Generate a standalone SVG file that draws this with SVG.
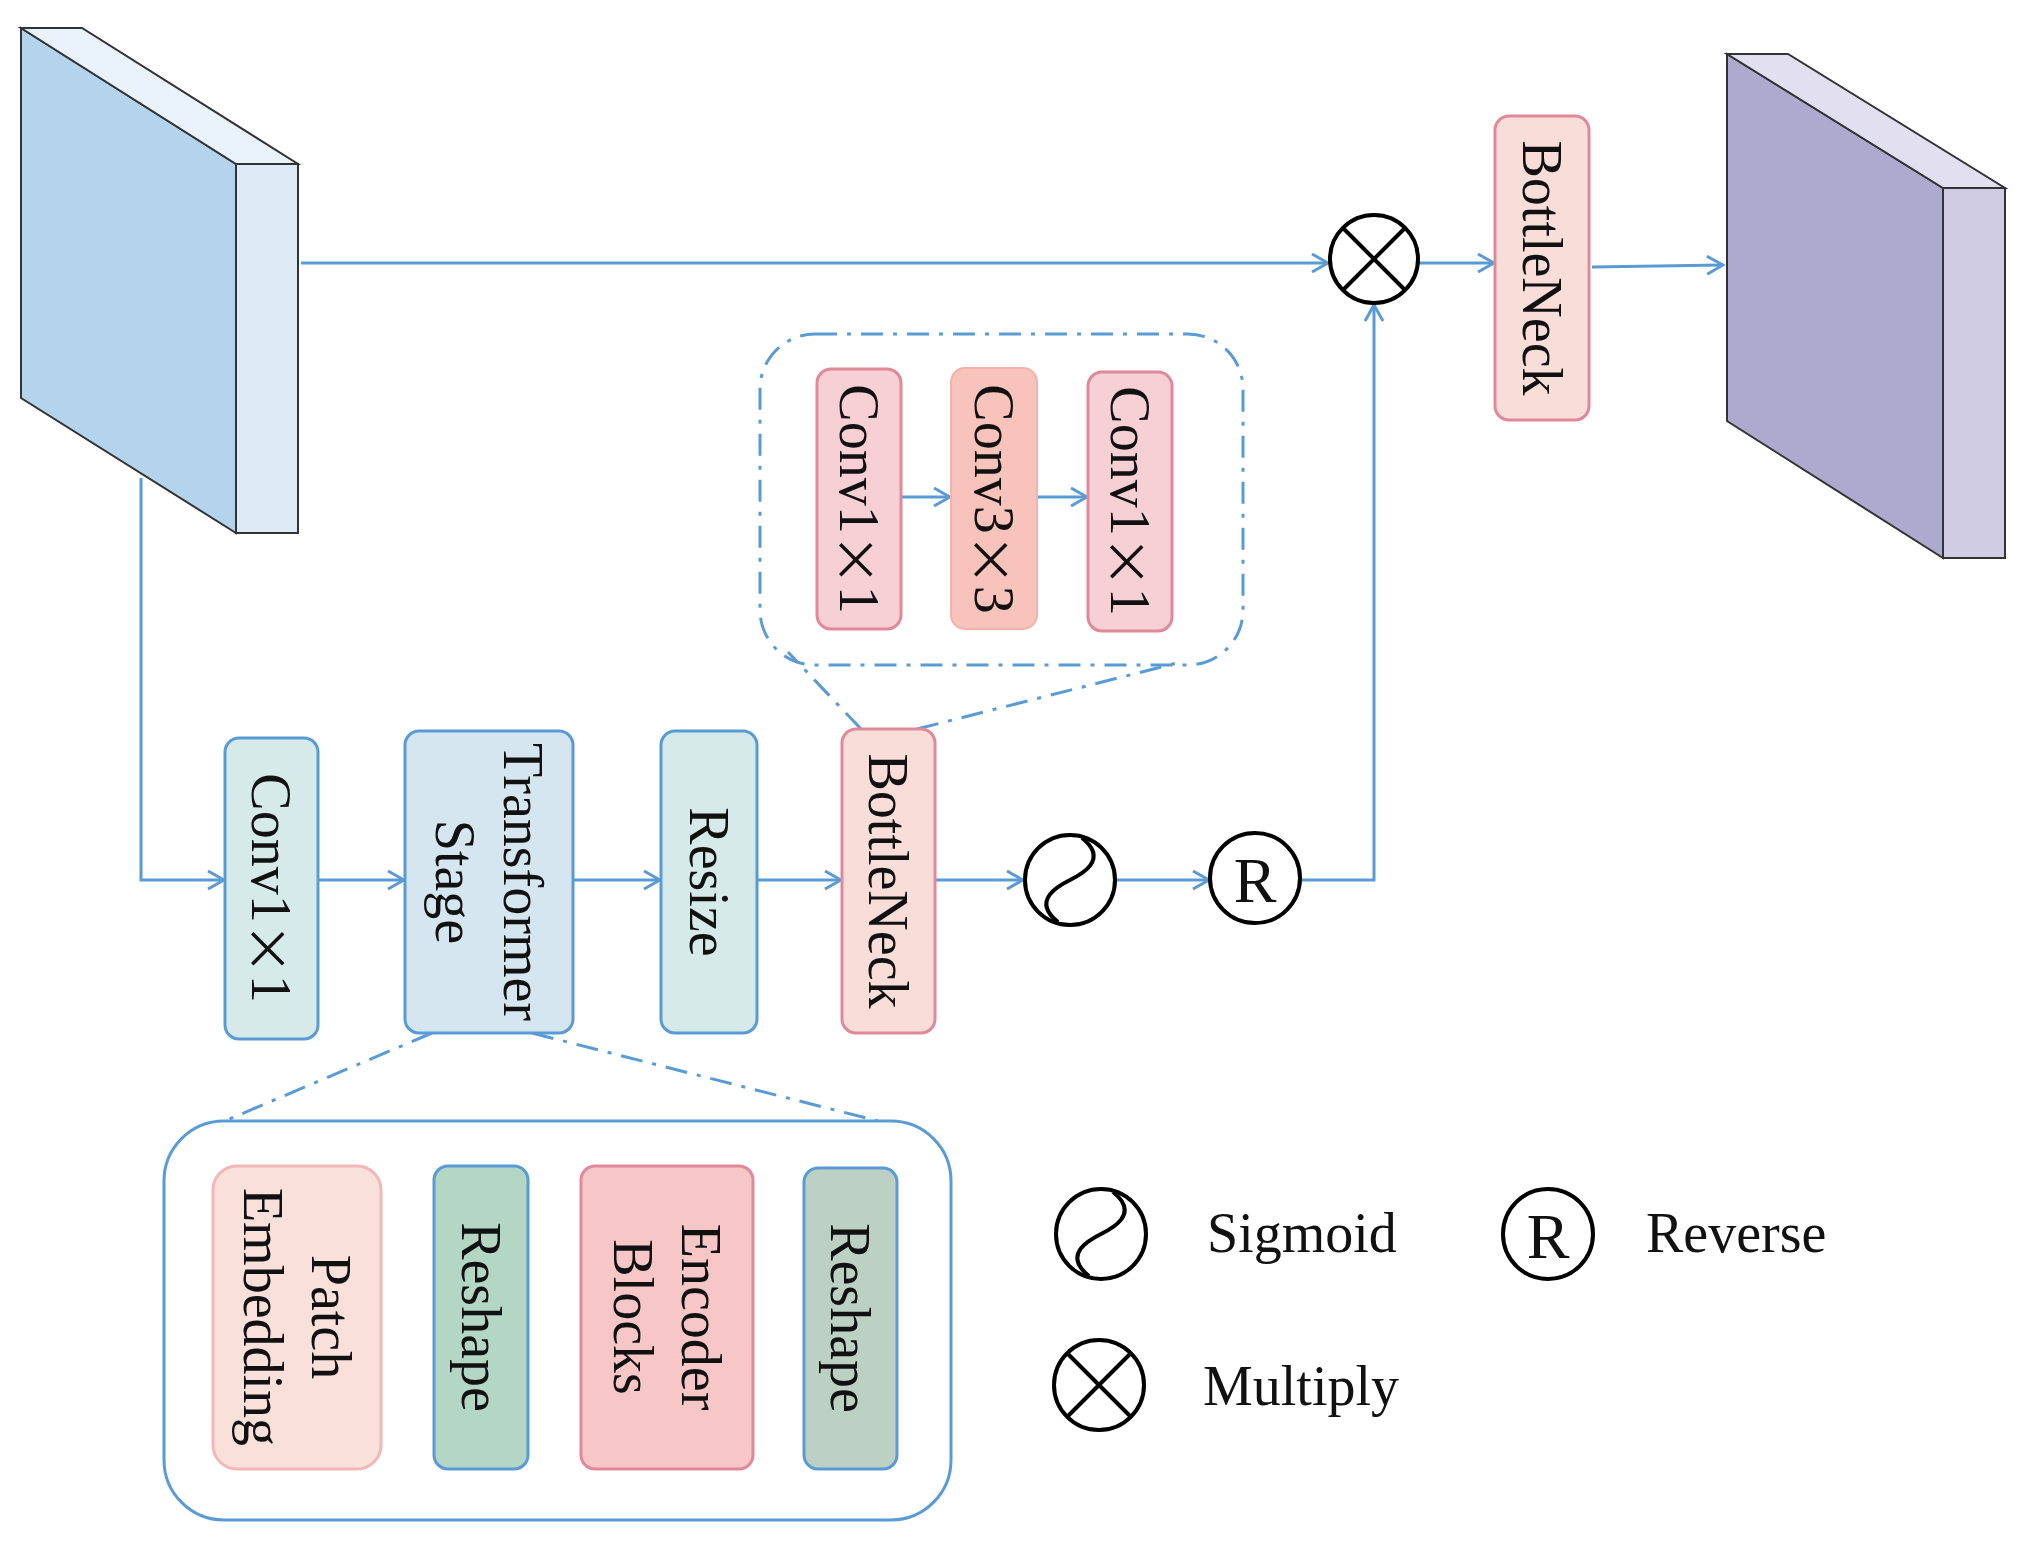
<svg xmlns="http://www.w3.org/2000/svg" width="2024" height="1542" viewBox="0 0 2024 1542">
<style>
.t{font-family:"Liberation Serif","Times New Roman",serif;font-size:56px;fill:#111;}
.x{font-family:"Noto Sans CJK SC",sans-serif;font-size:52px;}
.r{font-size:64px;}
.c{fill:none;stroke:#5b9bd5;stroke-width:3;}
.d{fill:none;stroke:#5b9bd5;stroke-width:3;stroke-dasharray:22 10 4 10;}
.sym{fill:#fff;stroke:#000;stroke-width:4;}
.bl{stroke:#5b9bd5;stroke-width:3;rx:14;}
.rd{stroke:#e0899a;stroke-width:3;rx:14;}
</style>
<defs>
<marker id="a" markerWidth="20" markerHeight="20" refX="18" refY="10" orient="auto" markerUnits="userSpaceOnUse">
<path d="M2,1 L18,10 L2,19" fill="none" stroke="#5b9bd5" stroke-width="3"/>
</marker>
</defs>
<g id="input-block">
<polygon points="21,28 236,164 236,533 21,398" fill="#b4d3ec" stroke="#333" stroke-width="2"/>
<polygon points="21,28 82,28 298,164 236,164" fill="#eaf3fb" stroke="#333" stroke-width="2"/>
<rect x="236" y="164" width="62" height="369" fill="#dde9f5" stroke="#333" stroke-width="2"/>
</g>
<g id="output-block">
<polygon points="1727,54 1943,188 1943,558 1727,421" fill="#aea9cf" stroke="#333" stroke-width="2"/>
<polygon points="1727,54 1788,54 2005,188 1943,188" fill="#e2e0f0" stroke="#333" stroke-width="2"/>
<rect x="1943" y="188" width="62" height="370" fill="#d0cce4" stroke="#333" stroke-width="2"/>
</g>
<g id="connectors">
<line class="c" x1="301" y1="263" x2="1328" y2="263" marker-end="url(#a)"/>
<line class="c" x1="1418" y1="263" x2="1494" y2="263" marker-end="url(#a)"/>
<line class="c" x1="1592" y1="267" x2="1723" y2="265" marker-end="url(#a)"/>
<polyline class="c" points="141,478 141,880 224,880" marker-end="url(#a)"/>
<line class="c" x1="318" y1="880" x2="404" y2="880" marker-end="url(#a)"/>
<line class="c" x1="573" y1="880" x2="660" y2="880" marker-end="url(#a)"/>
<line class="c" x1="757" y1="880" x2="841" y2="880" marker-end="url(#a)"/>
<line class="c" x1="935" y1="880" x2="1023" y2="880" marker-end="url(#a)"/>
<line class="c" x1="1115" y1="880" x2="1209" y2="880" marker-end="url(#a)"/>
<polyline class="c" points="1300,880 1374,880 1374,305" marker-end="url(#a)"/>
<line class="c" x1="901" y1="497" x2="950" y2="497" marker-end="url(#a)"/>
<line class="c" x1="1037" y1="497" x2="1087" y2="497" marker-end="url(#a)"/>
<line class="c" x1="381" y1="1319" x2="432" y2="1319" marker-end="url(#a)"/>
<line class="c" x1="528" y1="1319" x2="580" y2="1319" marker-end="url(#a)"/>
<line class="c" x1="753" y1="1319" x2="803" y2="1319" marker-end="url(#a)"/>
<line class="d" x1="861" y1="729" x2="788" y2="652"/>
<line class="d" x1="917" y1="729" x2="1181" y2="662"/>
<line class="d" x1="432" y1="1033" x2="213" y2="1126"/>
<line class="d" x1="532" y1="1033" x2="878" y2="1121"/>
</g>
<g id="bottleneck-detail">
<rect class="d" x="760" y="334" width="483" height="331" rx="55"/>
</g>
<g id="conv1a">
<rect class="rd" x="817" y="369" width="84" height="260" fill="#f6d0d4"/>
<text class="t" transform="translate(859,499) rotate(90)" text-anchor="middle" dominant-baseline="central">Conv1<tspan class="x">×</tspan>1</text>
</g>
<g id="conv3">
<rect x="951" y="368" width="86" height="261" rx="14" fill="#f7c3bb" stroke="#f3b3aa" stroke-width="2"/>
<text class="t" transform="translate(994,499) rotate(90)" text-anchor="middle" dominant-baseline="central">Conv3<tspan class="x">×</tspan>3</text>
</g>
<g id="conv1b">
<rect class="rd" x="1088" y="372" width="84" height="259" fill="#f6d0d4"/>
<text class="t" transform="translate(1130,501) rotate(90)" text-anchor="middle" dominant-baseline="central">Conv1<tspan class="x">×</tspan>1</text>
</g>
<g id="bottleneck-top">
<rect class="rd" x="1495" y="116" width="94" height="304" fill="#f8ddd8"/>
<text class="t" transform="translate(1542,268) rotate(90)" text-anchor="middle" dominant-baseline="central">BottleNeck</text>
</g>
<g id="multiply">
<circle class="sym" cx="1374" cy="259" r="44"/>
<path d="M1343,228 L1405,290 M1405,228 L1343,290" stroke="#000" stroke-width="4"/>
</g>
<g id="conv1x1">
<rect class="bl" x="225" y="738" width="93" height="301" fill="#d7eaea"/>
<text class="t" transform="translate(271,888) rotate(90)" text-anchor="middle" dominant-baseline="central">Conv1<tspan class="x">×</tspan>1</text>
</g>
<g id="transformer-stage">
<rect class="bl" x="405" y="731" width="168" height="302" rx="30" fill="#d5e6f0"/>
<text class="t" transform="translate(489,882) rotate(90)" text-anchor="middle" dominant-baseline="central"><tspan x="0" y="-34">Transformer</tspan><tspan x="0" y="34">Stage</tspan></text>
</g>
<g id="resize">
<rect class="bl" x="661" y="731" width="96" height="302" fill="#d7eaea"/>
<text class="t" transform="translate(709,882) rotate(90)" text-anchor="middle" dominant-baseline="central">Resize</text>
</g>
<g id="bottleneck">
<rect class="rd" x="842" y="729" width="93" height="304" fill="#f8ddd8"/>
<text class="t" transform="translate(888,881) rotate(90)" text-anchor="middle" dominant-baseline="central">BottleNeck</text>
</g>
<g id="sigmoid">
<circle class="sym" cx="1070" cy="880" r="45"/>
<path d="M1058,922 C1030,900 1060,885 1070,880 C1080,875 1110,860 1082,838" fill="none" stroke="#000" stroke-width="4"/>
</g>
<g id="reverse">
<circle class="sym" cx="1255" cy="878" r="45"/>
<text class="t r" x="1255" y="880" text-anchor="middle" dominant-baseline="central">R</text>
</g>
<g id="transformer-detail">
<rect x="164" y="1121" width="787" height="399" rx="60" fill="#fff" stroke="#5b9bd5" stroke-width="3"/>
</g>
<g id="patch-embedding">
<rect x="213" y="1166" width="168" height="303" rx="24" fill="#f9e0da" stroke="#f2b8b8" stroke-width="3"/>
<text class="t" transform="translate(297,1317) rotate(90)" text-anchor="middle" dominant-baseline="central"><tspan x="0" y="-34">Patch</tspan><tspan x="0" y="34">Embedding</tspan></text>
</g>
<g id="reshape1">
<rect class="bl" x="434" y="1166" width="94" height="303" fill="#b3d7c4"/>
<text class="t" transform="translate(481,1317) rotate(90)" text-anchor="middle" dominant-baseline="central">Reshape</text>
</g>
<g id="encoder-blocks">
<rect class="rd" x="581" y="1166" width="172" height="303" rx="26" fill="#f7c6c6"/>
<text class="t" transform="translate(667,1317) rotate(90)" text-anchor="middle" dominant-baseline="central"><tspan x="0" y="-34">Encoder</tspan><tspan x="0" y="34">Blocks</tspan></text>
</g>
<g id="reshape2">
<rect class="bl" x="804" y="1168" width="93" height="301" fill="#bcd1c3"/>
<text class="t" transform="translate(850,1318) rotate(90)" text-anchor="middle" dominant-baseline="central">Reshape</text>
</g>
<g id="legend">
<circle class="sym" cx="1101" cy="1234" r="45"/>
<path d="M1089,1276 C1061,1254 1091,1239 1101,1234 C1111,1229 1141,1214 1113,1192" fill="none" stroke="#000" stroke-width="4"/>
<text class="t" x="1207" y="1252">Sigmoid</text>
<circle class="sym" cx="1548" cy="1234" r="45"/>
<text class="t r" x="1548" y="1236" text-anchor="middle" dominant-baseline="central">R</text>
<text class="t" x="1646" y="1252">Reverse</text>
<circle class="sym" cx="1099" cy="1385" r="45"/>
<path d="M1067,1353 L1131,1417 M1131,1353 L1067,1417" stroke="#000" stroke-width="4"/>
<text class="t" x="1203" y="1405">Multiply</text>
</g>
</svg>
